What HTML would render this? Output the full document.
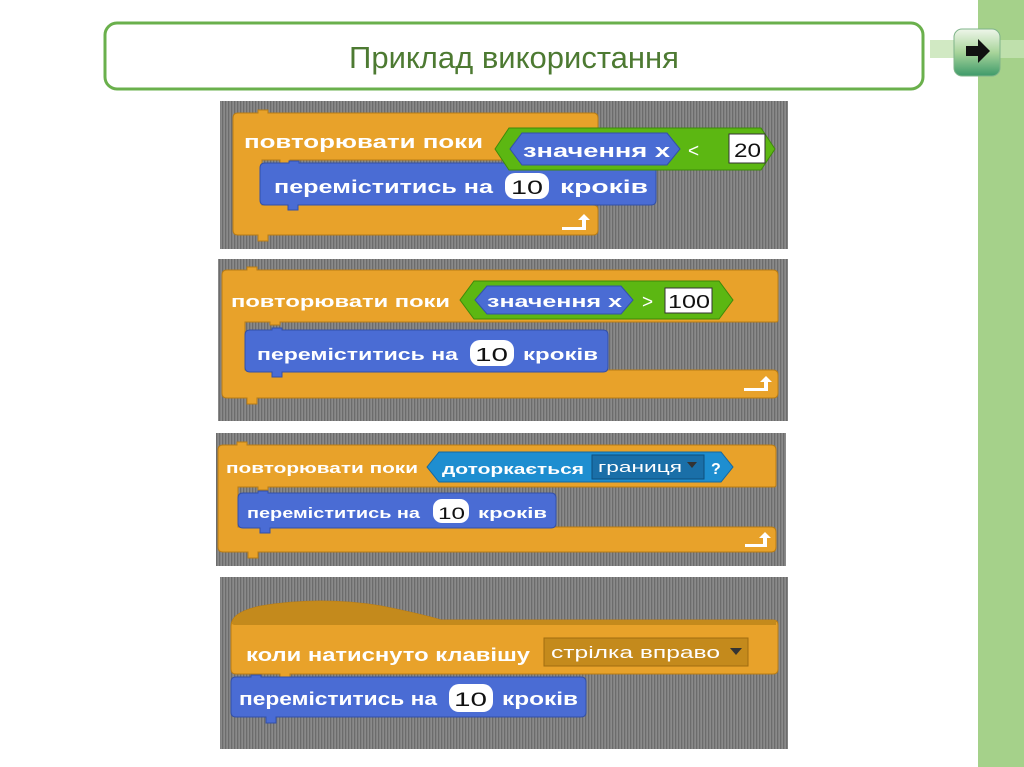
<!DOCTYPE html>
<html><head><meta charset="utf-8"><style>
html,body{margin:0;padding:0;background:#fff;width:1024px;height:767px;overflow:hidden}
svg text{font-family:"Liberation Sans","DejaVu Sans",sans-serif;font-weight:bold}
</style></head><body>
<svg width="1024" height="767" viewBox="0 0 1024 767" xmlns="http://www.w3.org/2000/svg">
<defs>
<pattern id="st" width="3" height="10" patternUnits="userSpaceOnUse">
<rect width="3" height="10" fill="#8a8a8a"/><rect width="1.3" height="10" fill="#6c6c6c"/>
</pattern>
<linearGradient id="gb" x1="0" x2="0" y1="0" y2="1"><stop offset="0" stop-color="#eef6ea"/><stop offset="0.5" stop-color="#a8d49a"/><stop offset="1" stop-color="#3e9a6a"/></linearGradient>
</defs>
<rect x="978" y="0" width="46" height="767" fill="#a5d18a"/>
<rect x="930" y="40" width="94" height="18" fill="#c5e3b4" opacity="0.8"/>
<rect x="954" y="29" width="46" height="47" rx="8" fill="url(#gb)" stroke="#7fb48a"/>
<path d="M966 46h12v-7l12 12-12 12v-7h-12z" fill="#111"/>
<rect x="105" y="23" width="818" height="66" rx="12" fill="#fff" stroke="#6ab04c" stroke-width="3"/>
<text x="514" y="68" text-anchor="middle" font-size="31" fill="#4d7a32" style="font-weight:normal">Приклад використання</text>

<rect x="220" y="101" width="568" height="148" fill="url(#st)"/>
<rect x="218" y="259" width="570" height="162" fill="url(#st)"/>
<rect x="216" y="433" width="570" height="133" fill="url(#st)"/>
<rect x="220" y="577" width="568" height="172" fill="url(#st)"/>

<!-- block 1 -->
<path d="M233 118q0-5 5-5h20v-3h10v3h325q5 0 5 5v40q0 2-2 2H290v3h-10v-3h-18v45h331q5 0 5 5v20q0 5-5 5H268v6h-10v-6h-20q-5 0-5-5z" fill="#e8a22a" stroke="#b97c14"/>
<path d="M260 168q0-5 5-5h24v-2h10v2h352q5 0 5 5v32q0 5-5 5H298v5h-10v-5h-23q-5 0-5-5z" fill="#4a6cd4" stroke="#3350a8"/>
<path d="M495 149l14-21h252l14 21-14 21H509z" fill="#5cb712" stroke="#3d8a0a"/>
<path d="M522 133h145l13 16-13 16H522l-12-16z" fill="#4a6cd4" stroke="#3350a8"/>
<rect x="729" y="134" width="36" height="29" fill="#fff" stroke="#333"/>
<text x="244" y="148" font-size="18" fill="#fff" textLength="239" lengthAdjust="spacingAndGlyphs">повторювати поки</text>
<text x="523" y="157" font-size="18" fill="#fff" textLength="147" lengthAdjust="spacingAndGlyphs">значення х</text>
<text x="688" y="157" font-size="19" fill="#fff" style="font-weight:normal">&lt;</text>
<text x="734" y="157" font-size="19" fill="#111" style="font-weight:normal" textLength="27" lengthAdjust="spacingAndGlyphs">20</text>
<text x="274" y="193" font-size="18" fill="#fff" textLength="219" lengthAdjust="spacingAndGlyphs">переміститись на</text>
<rect x="505" y="173" width="44" height="26" rx="10" fill="#fff"/>
<text x="511" y="194" font-size="19" fill="#111" style="font-weight:normal" textLength="32" lengthAdjust="spacingAndGlyphs">10</text>
<text x="560" y="193" font-size="18" fill="#fff" textLength="88" lengthAdjust="spacingAndGlyphs">кроків</text>
<path d="M562 227h20v-7h-4l6-6 6 6h-4v10h-24z" fill="#fff"/>

<!-- block 2 -->
<path d="M222 275q0-5 5-5h20v-3h10v3h516q5 0 5 5v45q0 2-2 2H280v3h-10v-3h-25v48h528q5 0 5 5v18q0 5-5 5H257v6h-10v-6h-20q-5 0-5-5z" fill="#e8a22a" stroke="#b97c14"/>
<path d="M245 335q0-5 5-5h22v-2h10v2h321q5 0 5 5v32q0 5-5 5H282v5h-10v-5h-22q-5 0-5-5z" fill="#4a6cd4" stroke="#3350a8"/>
<path d="M460 300l14-19h245l14 19-14 19H474z" fill="#5cb712" stroke="#3d8a0a"/>
<path d="M487 286h134l12 14-12 14H487l-12-14z" fill="#4a6cd4" stroke="#3350a8"/>
<rect x="665" y="288" width="47" height="25" fill="#fff" stroke="#333"/>
<text x="231" y="307" font-size="17" fill="#fff" textLength="219" lengthAdjust="spacingAndGlyphs">повторювати поки</text>
<text x="487" y="307" font-size="17" fill="#fff" textLength="135" lengthAdjust="spacingAndGlyphs">значення х</text>
<text x="642" y="308" font-size="19" fill="#fff" style="font-weight:normal">&gt;</text>
<text x="668" y="308" font-size="18" fill="#111" style="font-weight:normal" textLength="42" lengthAdjust="spacingAndGlyphs">100</text>
<text x="257" y="360" font-size="17" fill="#fff" textLength="201" lengthAdjust="spacingAndGlyphs">переміститись на</text>
<rect x="470" y="340" width="44" height="26" rx="10" fill="#fff"/>
<text x="475" y="361" font-size="18" fill="#111" style="font-weight:normal" textLength="33" lengthAdjust="spacingAndGlyphs">10</text>
<text x="523" y="360" font-size="17" fill="#fff" textLength="75" lengthAdjust="spacingAndGlyphs">кроків</text>
<path d="M744 388h20v-6h-4l6-6 6 6h-4v9h-24z" fill="#fff"/>

<!-- block 3 -->
<path d="M218 450q0-5 5-5h14v-3h10v3h524q5 0 5 5v35q0 2-2 2H268v3h-10v-3h-20v40h533q5 0 5 5v15q0 5-5 5H258v6h-10v-6h-25q-5 0-5-5z" fill="#e8a22a" stroke="#b97c14"/>
<path d="M238 498q0-5 5-5h15v-2h10v2h283q5 0 5 5v25q0 5-5 5H270v5h-10v-5h-17q-5 0-5-5z" fill="#4a6cd4" stroke="#3350a8"/>
<path d="M427 467l12-15h282l12 15-12 15H439z" fill="#1e8ed0" stroke="#1468a0"/>
<rect x="592" y="455" width="112" height="24" fill="#1a6fa8" stroke="#0e4f7c"/>
<path d="M687 462h10l-5 6z" fill="#333"/>
<text x="226" y="473" font-size="15" fill="#fff" textLength="192" lengthAdjust="spacingAndGlyphs">повторювати поки</text>
<text x="442" y="474" font-size="15" fill="#fff" textLength="142" lengthAdjust="spacingAndGlyphs">доторкається</text>
<text x="598" y="472" font-size="15" fill="#fff" style="font-weight:normal" textLength="84" lengthAdjust="spacingAndGlyphs">границя</text>
<text x="711" y="474" font-size="16" fill="#fff">?</text>
<text x="247" y="518" font-size="15" fill="#fff" textLength="173" lengthAdjust="spacingAndGlyphs">переміститись на</text>
<rect x="433" y="499" width="36" height="24" rx="9" fill="#fff"/>
<text x="438" y="519" font-size="17" fill="#111" style="font-weight:normal" textLength="27" lengthAdjust="spacingAndGlyphs">10</text>
<text x="478" y="518" font-size="15" fill="#fff" textLength="69" lengthAdjust="spacingAndGlyphs">кроків</text>
<path d="M745 544h18v-6h-4l6-6 6 6h-4v9h-22z" fill="#fff"/>

<!-- block 4 -->
<path d="M231 626q0-14 30-20q60-10 120 0q40 8 60 14h332q5 0 5 5v44q0 5-5 5H290v3h-10v-3h-44q-5 0-5-5z" fill="#e8a22a" stroke="#b97c14"/>
<path d="M232 624q0-12 29-18q60-10 120 0q40 8 60 14h335v5H234z" fill="#c48a1c"/>
<path d="M231 682q0-5 5-5h15v-2h10v2h320q5 0 5 5v30q0 5-5 5H276v6h-10v-6h-30q-5 0-5-5z" fill="#4a6cd4" stroke="#3350a8"/>
<rect x="544" y="638" width="204" height="28" fill="#c48a1c" stroke="#a06c10"/>
<path d="M730 648h12l-6 7z" fill="#333"/>
<text x="246" y="661" font-size="18" fill="#fff" textLength="284" lengthAdjust="spacingAndGlyphs">коли натиснуто клавішу</text>
<text x="551" y="658" font-size="17" fill="#fff" style="font-weight:normal" textLength="169" lengthAdjust="spacingAndGlyphs">стрілка вправо</text>
<text x="239" y="705" font-size="18" fill="#fff" textLength="198" lengthAdjust="spacingAndGlyphs">переміститись на</text>
<rect x="449" y="684" width="44" height="28" rx="10" fill="#fff"/>
<text x="454" y="706" font-size="19" fill="#111" style="font-weight:normal" textLength="33" lengthAdjust="spacingAndGlyphs">10</text>
<text x="502" y="705" font-size="18" fill="#fff" textLength="76" lengthAdjust="spacingAndGlyphs">кроків</text>
</svg>
</body></html>
